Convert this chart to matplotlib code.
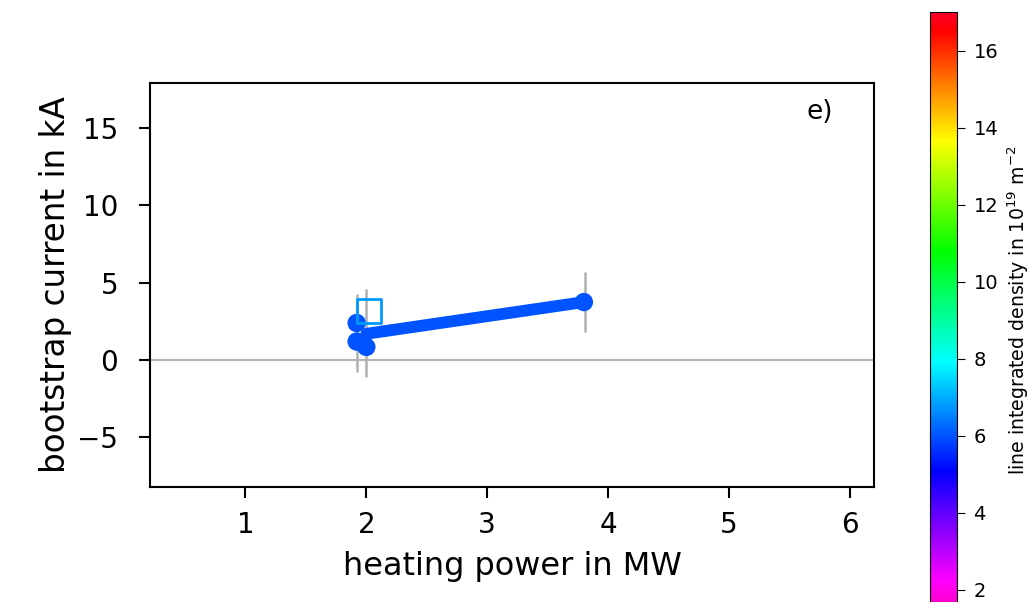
import numpy as np
import matplotlib
matplotlib.use('Agg')
import matplotlib.pyplot as plt
from matplotlib.colors import Normalize
from matplotlib.cm import ScalarMappable

# shots: heating power (MW), bootstrap current (kA), line integrated density (1e19 m^-2)
power = [1.92, 1.92, 2.0, 3.8]
current = [2.4, 1.2, 0.85, 3.75]
density = [6.0, 6.0, 6.0, 6.0]

# error bars (lower, upper) in kA
err_x = [1.92, 2.0, 3.81]
err_lo = [-0.8, -1.1, 1.8]
err_hi = [4.3, 4.6, 5.7]

# trend line
trend_x = [2.0, 3.8]
trend_y = [1.7, 3.75]

# simulated value (open square)
sim_x = [2.02]
sim_y = [3.2]
sim_density = [6.8]

cmap = plt.get_cmap('gist_rainbow_r')
norm = Normalize(vmin=1.5, vmax=17)

fig = plt.figure(figsize=(10.3, 6.02), dpi=100)
ax = fig.add_axes([0.1456, 0.191, 0.7029, 0.671])

ax.axhline(0, color='#b4b4b4', lw=1.5, zorder=1)
ax.vlines(err_x, err_lo, err_hi, color='#b0b0b0', lw=1.8, zorder=2)
ax.plot(trend_x, trend_y, '-', color=cmap(norm(density[0])), lw=8.5,
        solid_capstyle='round', zorder=3)
ax.scatter(power, current, s=175, c=density, cmap=cmap, norm=norm,
           edgecolors='none', zorder=4)
ax.scatter(sim_x, sim_y, s=300, marker='s', facecolors='none',
           edgecolors=[cmap(norm(v)) for v in sim_density], linewidths=2, zorder=5)

ax.set_xlim(0.21, 6.2)
ax.set_ylim(-8.2, 17.9)
ax.set_xticks([1, 2, 3, 4, 5, 6])
ax.set_yticks([-5, 0, 5, 10, 15])
ax.tick_params(labelsize=20, length=8, width=1.5)
ax.tick_params(axis='y', pad=15)
ax.tick_params(axis='x', pad=9)
for s in ax.spines.values():
    s.set_linewidth(1.5)
ax.set_xlabel('heating power in MW', fontsize=23, labelpad=9)
ax.set_ylabel('bootstrap current in kA', fontsize=23.5, labelpad=4)
ax.text(5.75, 16, 'e)', fontsize=19, ha='center', va='center')

cax = fig.add_axes([0.903, -0.012, 0.026, 0.992])
sm = ScalarMappable(norm=norm, cmap=cmap)
cb = fig.colorbar(sm, cax=cax)
cb.set_ticks([2, 4, 6, 8, 10, 12, 14, 16])
cb.ax.tick_params(labelsize=14, length=6, pad=6)
cb.set_label('line integrated density in $10^{19}$ m$^{-2}$', fontsize=13.6, labelpad=5)

fig.savefig('out.png', dpi=100)
